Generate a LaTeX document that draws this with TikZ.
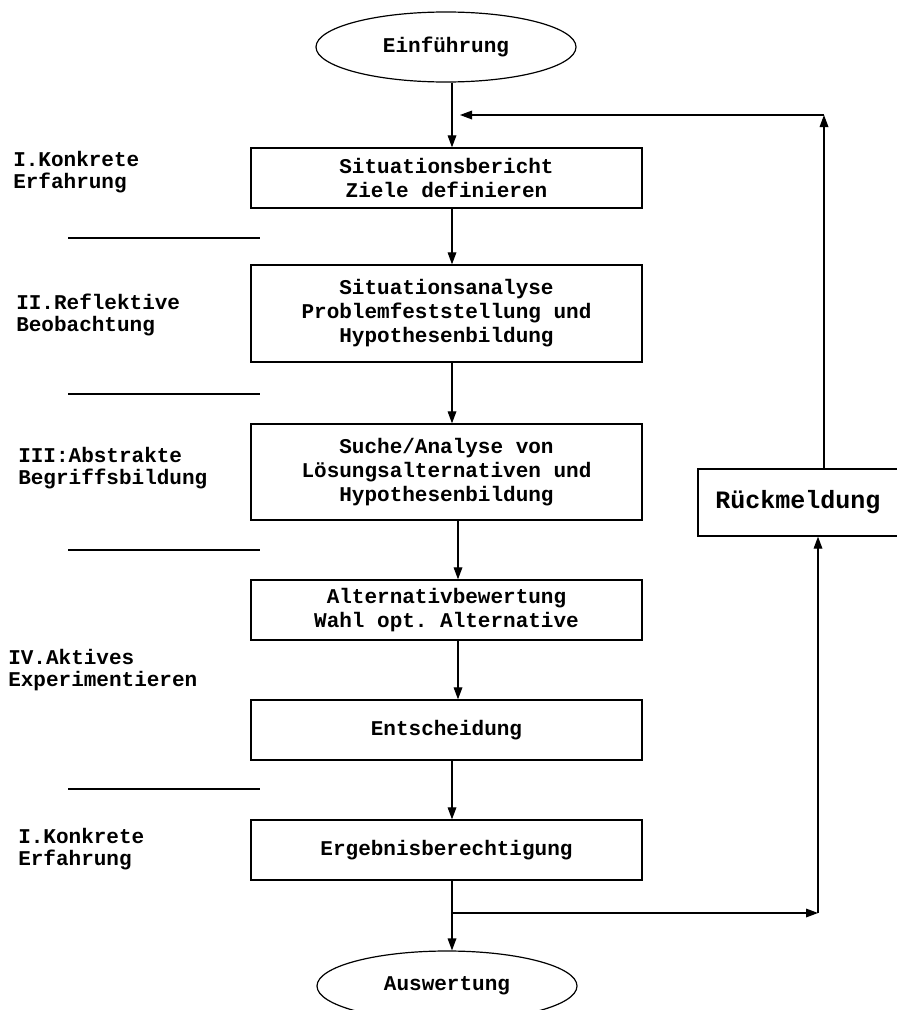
\documentclass[tikz,border=0pt]{standalone}
\usepackage{fontspec}
\setmonofont{Liberation Mono}
\usetikzlibrary{shapes.geometric,arrows.meta,calc}
\begin{document}
\begin{tikzpicture}[x=0.75pt,y=-0.75pt,
  every node/.style={font=\ttfamily\bfseries\fontsize{15.75}{18}\selectfont},
  procbox/.style={draw, line width=1pt, rectangle, minimum width=293.25pt, inner sep=0pt, align=center},
  term/.style={draw, ellipse, minimum width=195pt, minimum height=52.5pt, inner sep=0pt, line width=0.9pt},
  phase/.style={anchor=west, align=left, inner sep=0pt, font=\ttfamily\bfseries\fontsize{15.75}{17}\selectfont},
  flow/.style={-{Triangle[length=9pt,width=6.5pt]}, line width=0.9pt},
  sepline/.style={line width=1pt}]
\fill[white] (0,0) rectangle (896,1010);
\useasboundingbox (0,0) rectangle (896,1010);

% main flow
\node[term] (start) at (446,47) {Einführung};
\node[procbox, minimum height=45pt] (b1) at (446.5,178) {Situationsbericht\\Ziele definieren};
\node[procbox, minimum height=72.75pt] (b2) at (446.5,313.5) {Situationsanalyse\\Problemfeststellung und\\Hypothesenbildung};
\node[procbox, minimum height=72pt] (b3) at (446.5,472) {Suche/Analyse von\\Lösungsalternativen und\\Hypothesenbildung};
\node[procbox, minimum height=45pt] (b4) at (446.5,610) {Alternativbewertung\\Wahl opt. Alternative};
\node[procbox, minimum height=45pt] (b5) at (446.5,730) {Entscheidung};
\node[procbox, minimum height=45pt] (b6) at (446.5,850) {Ergebnisberechtigung};
\node[term] (end) at (447,986) {Auswertung};
\node[draw, line width=1pt, rectangle, minimum width=150pt, minimum height=50.25pt, inner sep=0pt,
      font=\ttfamily\bfseries\fontsize{18.75}{20}\selectfont] (rm) at (798,502.5) {Rückmeldung};

% phase labels
\node[phase] (p1) at (13,172) {I.Konkrete\\Erfahrung};
\node[phase] (p2) at (16,315) {II.Reflektive\\Beobachtung};
\node[phase] (p3) at (18,468) {III:Abstrakte\\Begriffsbildung};
\node[phase] (p4) at (8,670) {IV.Aktives\\Experimentieren};
\node[phase] (p5) at (18,849) {I.Konkrete\\Erfahrung};

% separators
\draw[sepline] (68,238) -- (260,238);
\draw[sepline] (68,394) -- (260,394);
\draw[sepline] (68,550) -- (260,550);
\draw[sepline] (68,789) -- (260,789);

% helper coordinates
\coordinate (fbtop) at (824,115);
\coordinate (fbin) at (460,115);
\coordinate (split) at (452,913);
\coordinate (corner) at (818,913);

% vertical connectors
\draw[flow] ($(start.south)+(6,0)$) -- ($(b1.north)+(5.5,0)$);
\draw[flow] ($(b1.south)+(5.5,0)$) -- ($(b2.north)+(5.5,0)$);
\draw[flow] ($(b2.south)+(5.5,0)$) -- ($(b3.north)+(5.5,0)$);
\draw[flow] ($(b3.south)+(11.5,0)$) -- ($(b4.north)+(11.5,0)$);
\draw[flow] ($(b4.south)+(11.5,0)$) -- ($(b5.north)+(11.5,0)$);
\draw[flow] ($(b5.south)+(5.5,0)$) -- ($(b6.north)+(5.5,0)$);
\draw[flow] (b6.south -| split) -- (end.north -| split);

% feedback loop
\draw[flow] (split) -- (corner);
\draw[flow] (corner) -- (rm.south -| corner);
\draw[flow] (rm.north -| fbtop) -- (fbtop);
\draw[flow] (fbtop) -- (fbin);
\end{tikzpicture}
\end{document}
